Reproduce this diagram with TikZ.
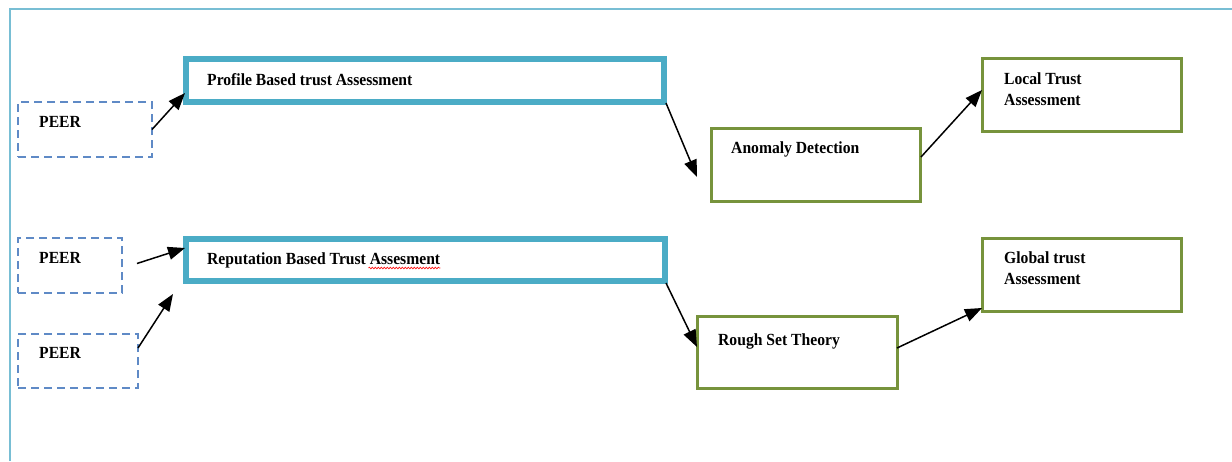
\documentclass[tikz,border=0pt]{standalone}
\usepackage{fontspec}
\setmainfont{Liberation Serif}[FakeStretch=0.92]
\usetikzlibrary{arrows.meta,calc,decorations.pathmorphing}
\definecolor{frameblue}{RGB}{120,190,212}
\definecolor{boxblue}{RGB}{75,172,198}
\definecolor{peerblue}{RGB}{95,138,198}
\definecolor{boxgreen}{RGB}{119,147,60}
\begin{document}
\begin{tikzpicture}[x=1pt,y=-1pt,
  bluebox/.style={draw=boxblue, line width=6pt, inner sep=0pt, outer sep=0pt},
  peerbox/.style={draw=peerblue, line width=2.5pt, dash pattern=on 8pt off 5pt, inner sep=0pt, outer sep=0pt},
  greenbox/.style={draw=boxgreen, line width=3pt, inner sep=0pt, outer sep=0pt},
  lbl/.style={font=\bfseries\fontsize{17}{20.5}\selectfont, inner sep=0pt, anchor=base west, align=left},
  arr/.style={-{Triangle[length=17pt,width=13pt]}, line width=1.5pt, black}]
\useasboundingbox (0,0) rectangle (1232,461);
\draw[frameblue, line width=2pt] (10,461) -- (10,9) -- (1232,9);
% boxes
\node[bluebox, minimum width=478pt, minimum height=43pt] (profile) at (425,80.5) {};
\node[bluebox, minimum width=479pt, minimum height=42pt] (reputation) at (425.5,260) {};
\node[peerbox, minimum width=134pt, minimum height=55pt] (peer1) at (85,129.5) {};
\node[peerbox, minimum width=104pt, minimum height=55pt] (peer2) at (70,265.5) {};
\node[peerbox, minimum width=120pt, minimum height=54pt] (peer3) at (78,361) {};
\node[greenbox, minimum width=209pt, minimum height=73pt] (anomaly) at (815.5,164.5) {};
\node[greenbox, minimum width=199pt, minimum height=73pt] (local) at (1081.5,94.5) {};
\node[greenbox, minimum width=200pt, minimum height=72pt] (rough) at (797,352) {};
\node[greenbox, minimum width=199pt, minimum height=73pt] (global) at (1081.5,274.5) {};
% texts
\node[lbl] (profiletext) at (207,85) {Profile Based trust Assessment};
\node[lbl] (reptext) at (207,264) {Reputation Based Trust Assesment};
\node[lbl] (peer1text) at (39,127) {PEER};
\node[lbl] (peer2text) at (39,263) {PEER};
\node[lbl] (peer3text) at (39,358) {PEER};
\node[lbl] (anomalytext) at (731,153) {Anomaly Detection};
\node[lbl] (localtext) at (1004,105) {Local Trust\\Assessment};
\node[lbl] (roughtext) at (718,345) {Rough Set Theory};
\node[lbl] (globaltext) at (1004,284) {Global trust\\Assessment};
% spell-check underline
\draw[red, line width=0.6pt, decorate, decoration={snake, amplitude=0.9pt, segment length=3pt}]
  ($(reptext.base east)+(-72,4)$) -- ($(reptext.base east)+(0,4)$);
% arrows
\draw[arr] (peer1.east) -- ($(profile.south west)+(-1,-9)$);
\draw[arr] ($(peer2.east)+(15,-2)$) -- ($(reputation.west)+(-1,-12)$);
\draw[arr] ($(peer3.north east)+(0,14)$) -- ($(reputation.south west)+(-13,13)$);
\draw[arr] ($(profile.south east)+(2,1)$) -- ($(anomaly.west)+(-14,12.5)$);
\draw[arr] ($(anomaly.east)+(1,-7.5)$) -- ($(local.west)+(0,-4.5)$);
\draw[arr] ($(reputation.south east)+(1,2)$) -- ($(rough.west)+(0,-5)$);
\draw[arr] ($(rough.east)+(0,-4)$) -- ($(global.south west)+(0,-3)$);
\end{tikzpicture}
\end{document}
